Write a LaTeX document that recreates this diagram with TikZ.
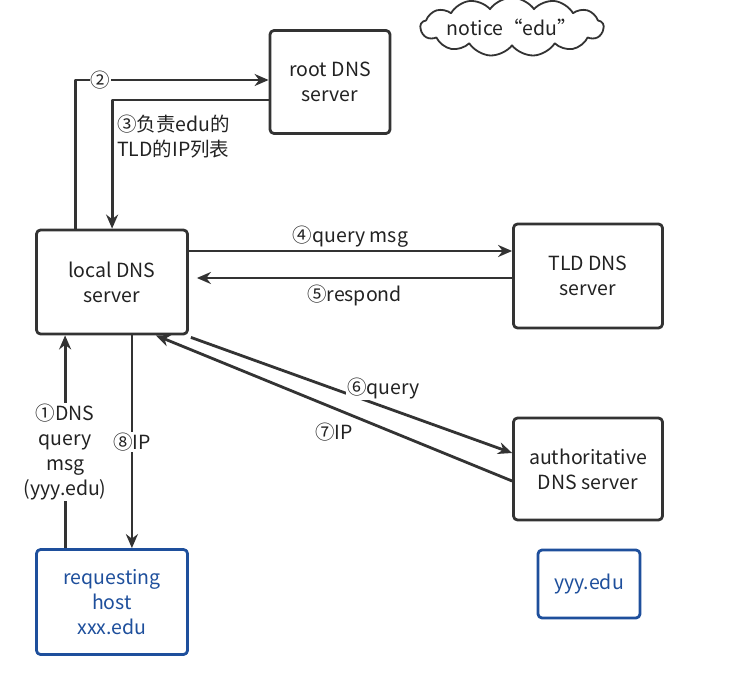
\documentclass[tikz,border=0pt]{standalone}
\usepackage{fontspec}
\setmainfont{Noto Sans CJK SC}
\usetikzlibrary{arrows.meta,shapes.symbols}
\definecolor{linegray}{HTML}{333333}
\definecolor{textgray}{HTML}{222222}
\definecolor{hostblue}{HTML}{1E4F9C}
\tikzset{
  server/.style={draw=linegray,line width=2.8pt,rounded corners=4pt,align=center,
    minimum width=150pt,minimum height=104pt,text=textgray,font=\fontsize{19.5}{25}\selectfont},
  host/.style={server,draw=hostblue,text=hostblue},
  msg/.style={fill=white,inner sep=1pt,align=center,text=textgray,font=\fontsize{19.5}{25}\selectfont},
  flow/.style={->,draw=linegray,line width=2.8pt}
}
\begin{document}
\begin{tikzpicture}[x=1pt,y=-1pt,line join=round,>={Stealth[length=14pt,width=12pt]}]
  \fill[white] (0,0) rectangle (736,679);
  \useasboundingbox (0,0) rectangle (736,679);
  % servers
  \node[server,minimum width=120pt,minimum height=103pt] (root) at (330,82) {root DNS\\server};
  \node[server,minimum width=151pt] (local) at (112,282) {local DNS\\server};
  \node[server,minimum width=149pt] (tld) at (588,276) {TLD DNS\\server};
  \node[server,minimum width=149pt,minimum height=102pt] (auth) at (588,469) {authoritative\\DNS server};
  % hosts
  \node[host,minimum width=151pt,minimum height=105pt] (req) at (112,602) {requesting\\host\\xxx.edu};
  \node[host,minimum width=102pt,minimum height=68pt] (yyy) at (589,584) {yyy.edu};
  \node[cloud,draw=linegray,line width=1.8pt,cloud puffs=13,cloud puff arc=110,aspect=5,inner sep=0pt,
    minimum width=165pt,minimum height=36pt,text=textgray,font=\fontsize{19.5}{25}\selectfont] (note) at (512,27) {notice“edu”};
  % query steps
  \draw[flow] ([xshift=30pt]req.north west) -- ([xshift=30pt]local.south west)
    node[msg,pos=0.45] {①DNS\\query\\msg\\(yyy.edu)};
  \draw[flow] ([xshift=40pt]local.north west) |- node[msg,pos=0.565] {②} ([yshift=2pt]root.west);
  \draw[flow] ([yshift=-18pt]root.west) -| ([xshift=77pt]local.north west);
  \node[msg,fill=none,anchor=north west,align=left] (l3) at (116,114) {③负责edu的\\TLD的IP列表};
  \draw[flow] ([yshift=31pt]local.east) -- ([yshift=25pt]tld.west)
    node[msg,fill=none,midway,above=1pt] {④query msg};
  \draw[flow] ([yshift=-2pt]tld.west) -- ([xshift=8pt,yshift=4pt]local.east)
    node[msg,fill=none,midway,below=5pt] {⑤respond};
  \draw[flow] ([xshift=2pt,yshift=-2pt]local.south east) -- ([yshift=16pt]auth.west)
    node[msg,pos=0.6,above=5pt] {⑥query};
  \draw[flow] ([yshift=-12pt]auth.west) -- ([xshift=-33pt]local.south east)
    node[msg,fill=none,pos=0.5,below=12pt] {⑦IP};
  \draw[flow] ([xshift=-57pt]local.south east) -- ([xshift=-57pt]req.north east)
    node[msg,pos=0.5] {⑧IP};
\end{tikzpicture}
\end{document}
